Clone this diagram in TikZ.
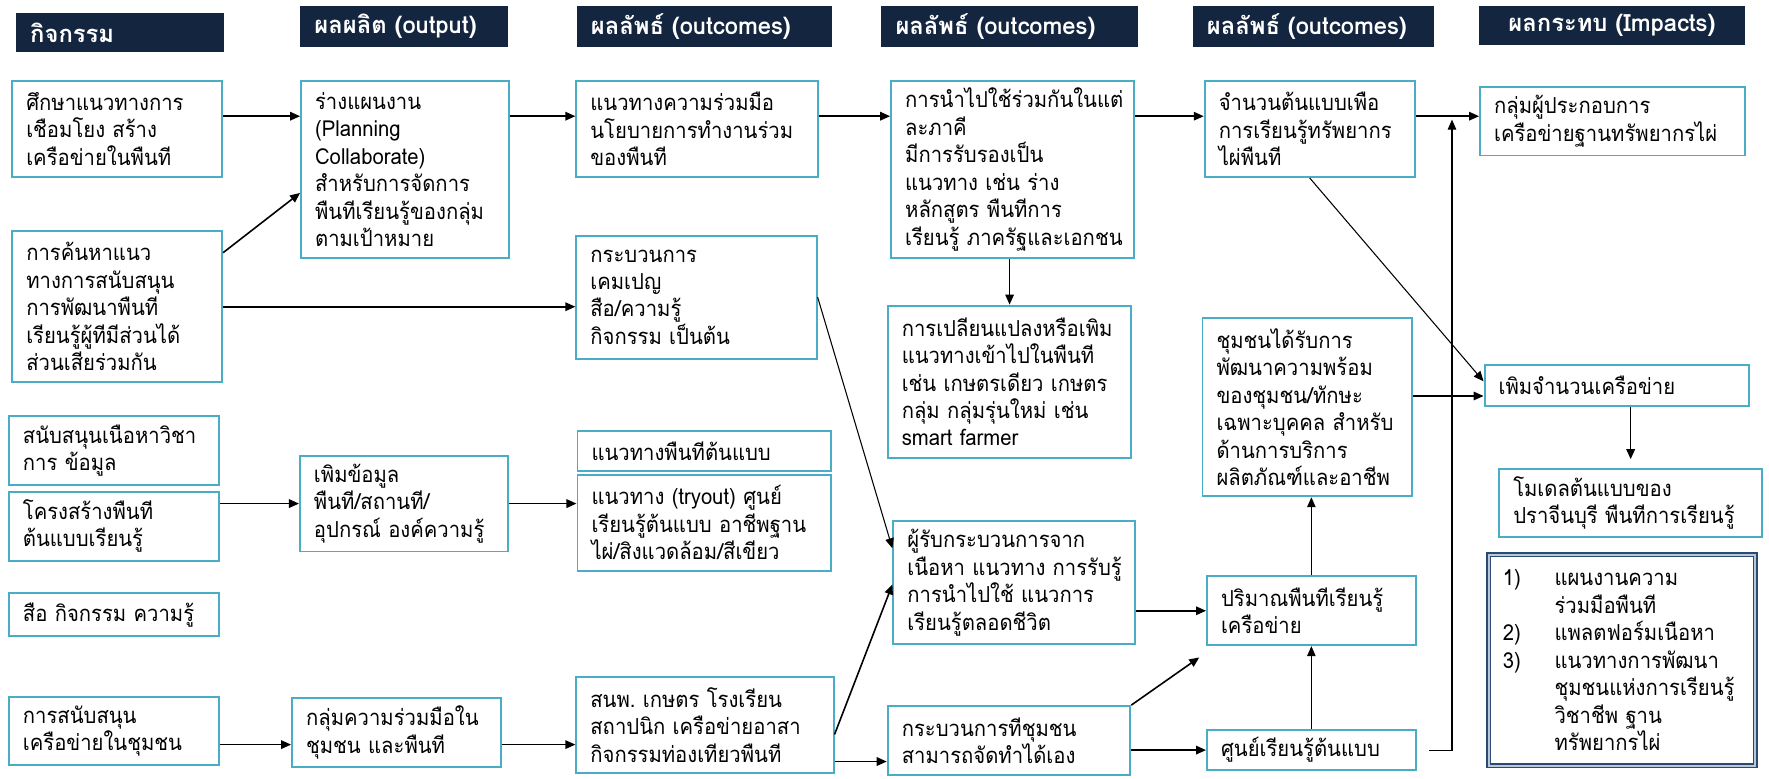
\documentclass[tikz,border=0pt]{standalone}
\usepackage{fontspec}
\usepackage{tikz}
\usetikzlibrary{arrows.meta, positioning, calc}
\newfontfamily\thaifont[Script=Thai, FakeStretch=0.92]{Loma}
\newfontfamily\headfont[Script=Thai]{Loma}
\definecolor{hdrnavy}{HTML}{13253F}
\definecolor{boxteal}{HTML}{4BACC6}
\definecolor{listnavy}{HTML}{2B4A72}
\definecolor{listpale}{HTML}{B9C7D8}
\newcommand{\lnum}[1]{\makebox[1.03cm][l]{#1}}
\hyphenpenalty=10000
\exhyphenpenalty=10000

\begin{document}
\begin{tikzpicture}[
  x=0.0225cm, y=-0.0225cm,
  box/.style 2 args={rectangle, draw=boxteal, line width=1.1pt, anchor=north west,
    minimum width={#1*0.0225cm}, minimum height={#2*0.0225cm},
    text width={#1*0.0225cm-0.56cm}, inner xsep=0.28cm, inner ysep=0pt,
    align=left, font=\thaifont\fontsize{12.5}{15.6}\selectfont},
  head/.style 2 args={rectangle, fill=hdrnavy, anchor=north west, text=white,
    minimum width={#1*0.0225cm}, minimum height={#2*0.0225cm},
    text width={#1*0.0225cm-0.56cm}, inner xsep=0.28cm, inner ysep=0pt,
    align=left, font=\headfont\bfseries\fontsize{13.5}{16}\selectfont},
  listbox/.style={box={236}{187}, draw=listnavy, line width=0.9pt,
    double=listpale, double distance=1.1pt},
  arr/.style={-{Triangle[length=0.2cm, width=0.17cm]}, line width=0.9pt},
  thinarr/.style={arr, line width=0.6pt}
]
\path[use as bounding box, fill=white] (0,0) rectangle (1568,690);

% column headers
\node[head={184}{35}] (h1) at (14,11) {กิจกรรม};
\node[head={184}{36}] (h2) at (266,5) {ผลผลิต~(output)};
\node[head={226}{36}] (h3) at (511,5) {ผลลัพธ์~(outcomes)};
\node[head={227}{36}] (h4) at (781,5) {ผลลัพธ์~(outcomes)};
\node[head={214}{36}] (h5) at (1057,5) {ผลลัพธ์~(outcomes)};
\node[head={235}{35}, align=center] (h6) at (1311,5) {ผลกระทบ~(Impacts)};

% activities
\node[box={186}{85}] (a1) at (10,71) {ศึกษาแนวทางการ\\เชือมโยง~สร้าง\\เครือข่ายในพืนที};
\node[box={186}{134}] (a2) at (10,204) {การค้นหาแนว\\ทางการสนับสนุน\\การพัฒนาพืนที\\เรียนรู้ผู้ทีมีส่วนได้\\ส่วนเสียร่วมกัน};
\node[box={186}{61}] (a3) at (7,368) {สนับสนุนเนือหาวิชา\\การ~ข้อมูล};
\node[box={186}{61}] (a4) at (7,435) {โครงสร้างพืนที\\ต้นแบบเรียนรู้};
\node[box={186}{38}] (a5) at (7,525) {สือ~กิจกรรม~ความรู้};
\node[box={186}{60}] (a6) at (7,617) {การสนับสนุน\\เครือข่ายในชุมชน};

% outputs
\node[box={184}{157}] (o1) at (266,71) {ร่างแผนงาน\\(Planning\\Collaborate)\\สำหรับการจัดการ\\พืนทีเรียนรู้ของกลุ่ม\\ตามเป้าหมาย};
\node[box={184}{85}] (o2) at (265,403) {เพิมข้อมูล\\พืนที/สถานที/\\อุปกรณ์~องค์ความรู้};
\node[box={185}{61}] (o3) at (258,618) {กลุ่มความร่วมมือใน\\ชุมชน~และพืนที};

% outcomes, first column
\node[box={214}{85}] (c1) at (510,71) {แนวทางความร่วมมือ\\นโยบายการทำงานร่วม\\ของพืนที};
\node[box={213}{109}] (c2) at (510,208) {กระบวนการ\\เคมเปญ\\สือ/ความรู้\\กิจกรรม~เป็นต้น};
\node[box={225}{36}] (c3) at (511,381) {แนวทางพืนทีต้นแบบ};
\node[box={225}{85}] (c4) at (511,420) {แนวทาง~(tryout)~ศูนย์\\เรียนรู้ต้นแบบ~อาชีพฐาน\\ไผ่/สิงแวดล้อม/สีเขียว};
\node[box={228}{85}] (c5) at (510,599) {สนพ.~เกษตร~โรงเรียน\\สถาปนิก~เครือข่ายอาสา\\กิจกรรมท่องเทียวพืนที};

% outcomes, second column
\node[box={215}{157}] (d1) at (789,71) {การนำไปใช้ร่วมกันในแต่\\ละภาคี\\มีการรับรองเป็น\\แนวทาง~เช่น~ร่าง\\หลักสูตร~พืนทีการ\\เรียนรู้~ภาครัฐและเอกชน};
\node[box={216}{135}] (d2) at (786,270) {การเปลียนแปลงหรือเพิม\\แนวทางเข้าไปในพืนที\\เช่น~เกษตรเดียว~เกษตร\\กลุ่ม~กลุ่มรุ่นใหม่~เช่น\\smart~farmer};
\node[box={214}{109}] (d3) at (791,461) {ผู้รับกระบวนการจาก\\เนือหา~แนวทาง~การรับรู้\\การนำไปใช้~แนวการ\\เรียนรู้ตลอดชีวิต};
\node[box={215}{61}] (d4) at (786,625) {กระบวนการทีชุมชน\\สามารถจัดทำได้เอง};

% outcomes, third column
\node[box={186}{85}] (e1) at (1067,71) {จำนวนต้นแบบเพือ\\การเรียนรู้ทรัพยากร\\ไผ่พืนที};
\node[box={186}{158}] (e2) at (1065,281) {ชุมชนได้รับการ\\พัฒนาความพร้อม\\ของชุมชน/ทักษะ\\เฉพาะบุคคล~สำหรับ\\ด้านการบริการ\\ผลิตภัณฑ์และอาชีพ};
\node[box={185}{61}] (e3) at (1069,510) {ปริมาณพืนทีเรียนรู้\\เครือข่าย};
\node[box={185}{36}] (e4) at (1069,646) {ศูนย์เรียนรู้ต้นแบบ};

% impacts
\node[box={235}{61}] (f1) at (1311,76) {กลุ่มผู้ประกอบการ\\เครือข่ายฐานทรัพยากรไผ่};
\node[box={234}{36}] (f2) at (1315,323) {เพิมจำนวนเครือข่าย};
\node[box={233}{60}] (f3) at (1328,415) {โมเดลต้นแบบของ\\ปราจีนบุรี~พืนทีการเรียนรู้};
\node[listbox] (f4) at (1319,491) {\lnum{1)}แผนงานความ\\\lnum{}ร่วมมือพืนที\\\lnum{2)}แพลตฟอร์มเนือหา\\\lnum{3)}แนวทางการพัฒนา\\\lnum{}ชุมชนแห่งการเรียนรู้\\\lnum{}วิชาชีพ~ฐาน\\\lnum{}ทรัพยากรไผ่};

\coordinate (r1) at (0,103);
\coordinate (joint) at (1287,106);

% top row
\draw[arr] (a1.east |- r1) -- (o1.west |- r1);
\draw[arr] (o1.east |- r1) -- (c1.west |- r1);
\draw[arr] (c1.east |- r1) -- (d1.west |- r1);
\draw[arr] (d1.east |- r1) -- (e1.west |- r1);
\draw[arr] (e1.east |- r1) -- (f1.west |- r1);
\draw[arr] (a2.east |- 0,224) -- (o1.west |- 0,171);
\draw[arr] (a2.east) -- (a2.east -| c2.west);
\draw[arr] (d1.south -| d2.north) -- (d2.north);

% middle and bottom rows
\draw[arr] (o2.west -| a4.east) -- (o2.west);
\draw[arr] (o2.east) -- (o2.east -| c4.west);
\draw[arr] (a6.east |- 0,660) -- (o3.west |- 0,660);
\draw[arr] (o3.east |- 0,660) -- (c5.west |- 0,660);
\draw[thinarr] (c2.east) -- (d3.west |- 0,486);
\draw[arr] (c5.east |- 0,651) -- (d3.west |- 0,518);
\draw[arr] (c5.east |- 0,675) -- (d4.west |- 0,675);
\draw[arr] (d3.east |- e3) -- (e3.west);
\draw[arr] (d4.north east) -- ([shift={(-6,10)}]e3.south west);
\draw[arr] (d4.east |- e4) -- (e4.west);
\draw[thinarr] (e4.north) -- (e3.south);
\draw[thinarr] (e3.north) -- (e3.north |- e2.south);
\draw[thinarr] ([xshift=0.25cm]e4.east) -| (joint);

% to impacts
\draw[thinarr] (e1.south) -- (f2.west |- 0,338);
\draw[arr] (e2.east |- 0,351) -- (f2.west |- 0,351);
\draw[arr, shorten >=0.18cm] (f2.south -| f3.north) -- (f3.north);
\end{tikzpicture}
\end{document}
